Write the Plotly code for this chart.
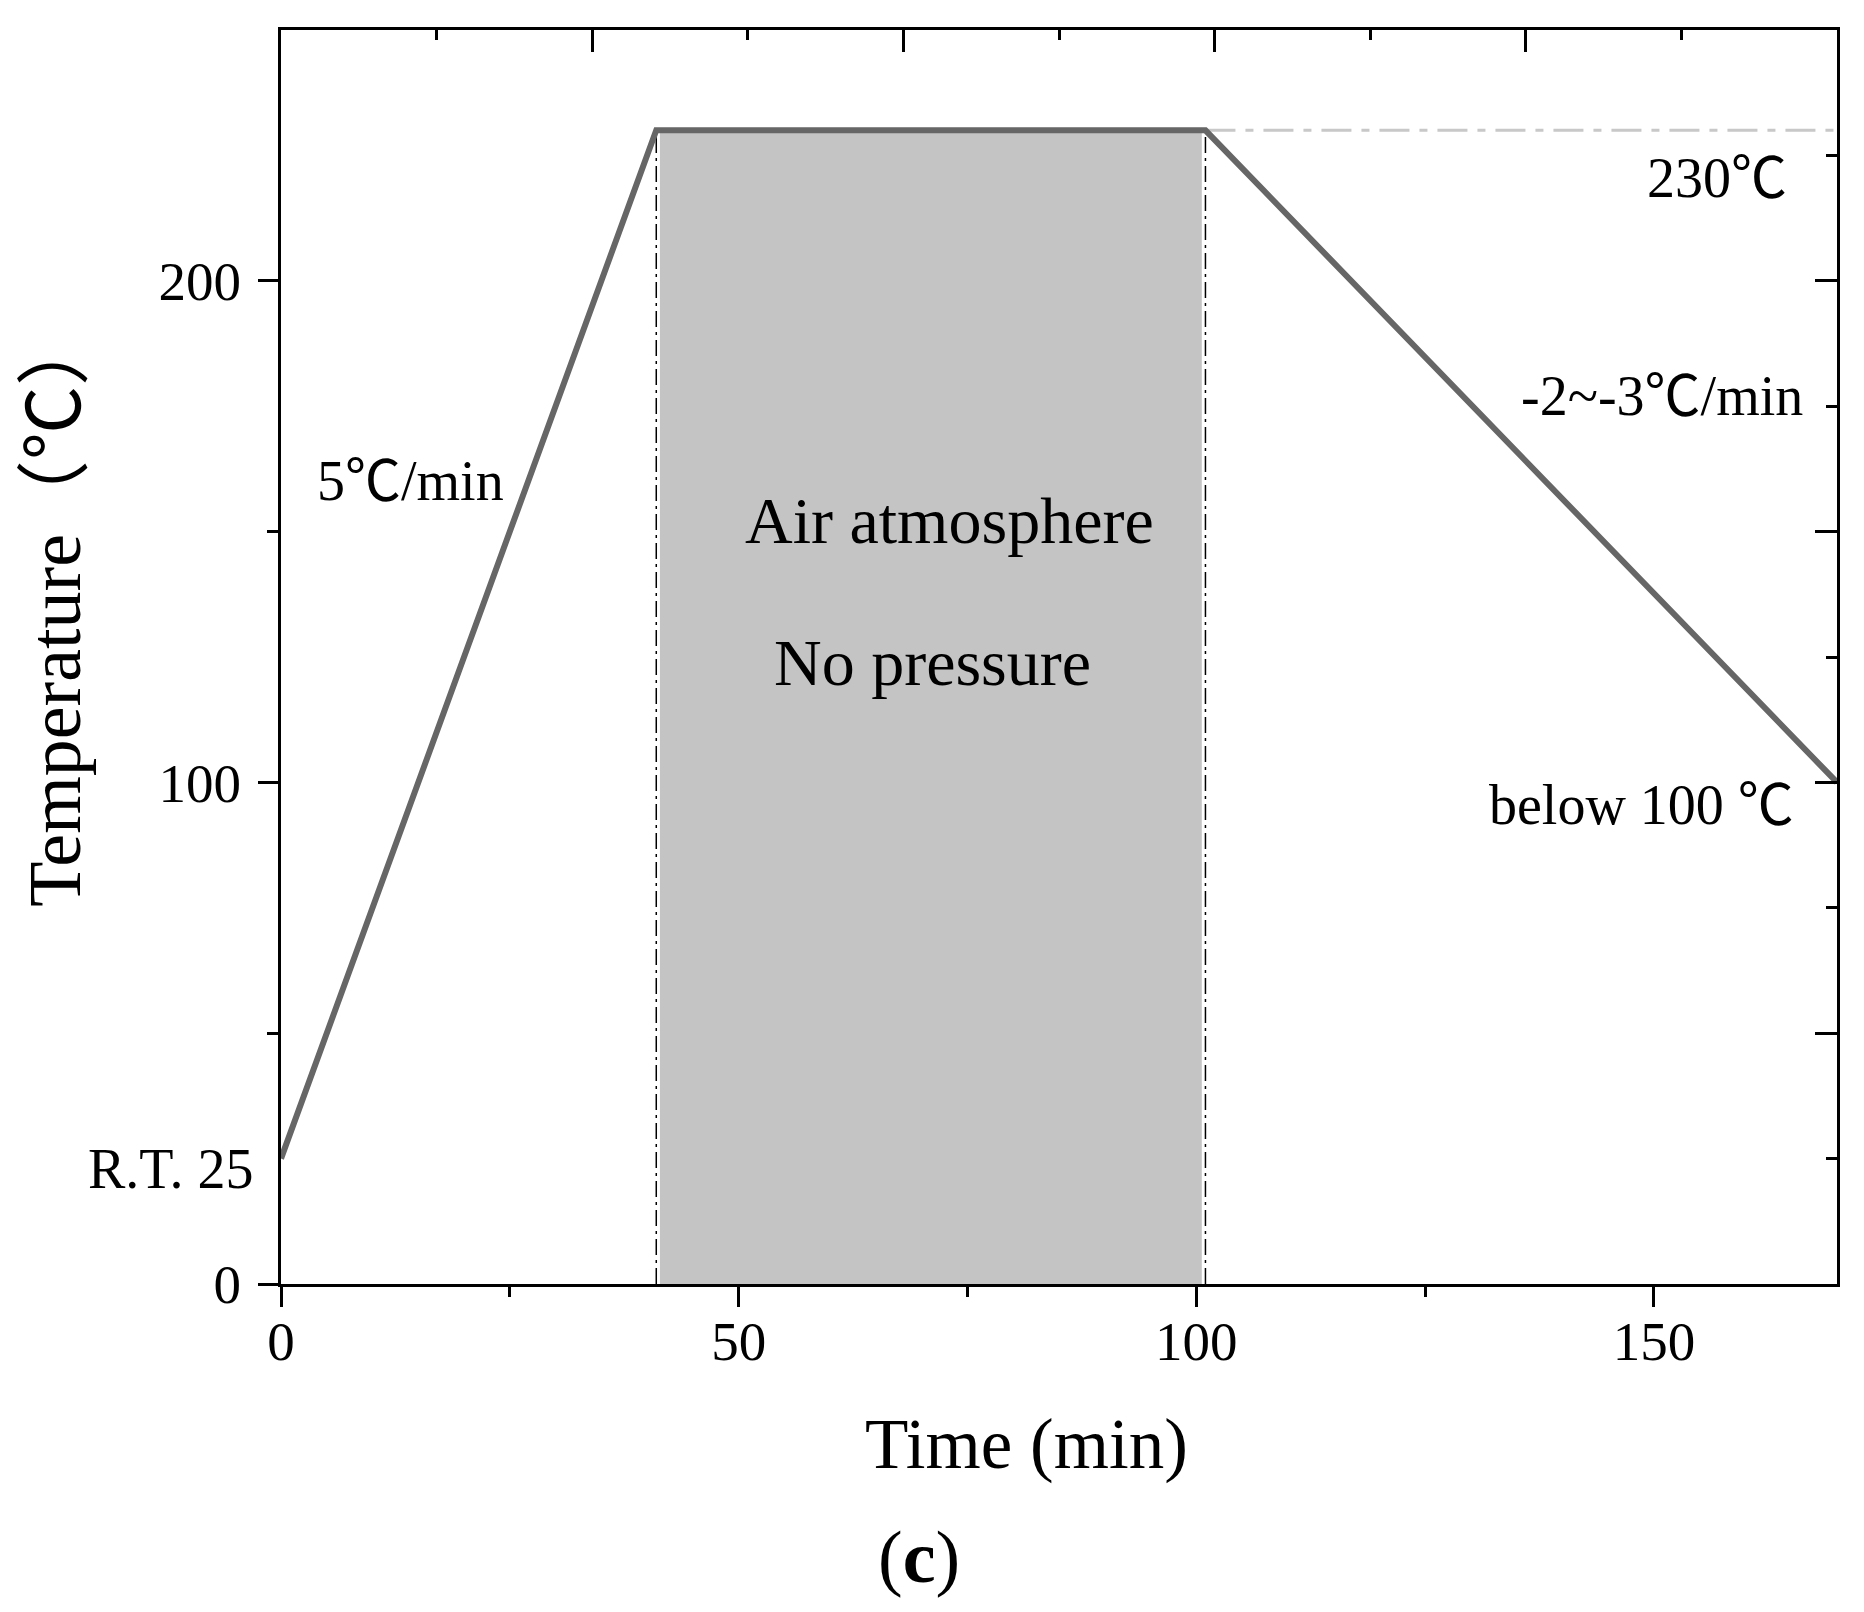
import plotly.graph_objects as go

# ---- data ----
time_pts = [0, 41, 101, 170]          # min
temp_pts = [25, 230, 230, 100]        # degC
hold_start = 41
hold_end = 101
hold_temp = 230
x_range = [0, 170]
y_range = [0, 250]
x_major = [0, 50, 100, 150]
x_minor = [25, 75, 125]
y_major = [0, 100, 200]
y_minor = [50, 150]
y2_major = [50, 100, 150, 200]
y2_minor = [25, 75, 125, 175, 225]

SERIF = "Liberation Serif, Times New Roman, Noto Sans CJK SC, serif"
PAL = "Palatino Linotype, Book Antiqua, Palatino, Liberation Serif, Noto Sans CJK SC, serif"

fig = go.Figure()

# shaded hold region
fig.add_shape(type="rect", xref="x", yref="y",
              x0=hold_start + 0.4, x1=hold_end - 0.4, y0=0, y1=hold_temp,
              fillcolor="#c4c4c4", line=dict(width=0), layer="below")

# vertical dash-dot boundaries
for xv in (hold_start, hold_end):
    fig.add_trace(go.Scatter(x=[xv, xv], y=[0, hold_temp], mode="lines",
                             line=dict(color="black", width=1.5, dash="16px,5px,3px,5px"),
                             showlegend=False, hoverinfo="skip"))

# horizontal reference at 230
fig.add_trace(go.Scatter(x=[hold_end, x_range[1]], y=[hold_temp, hold_temp], mode="lines",
                         line=dict(color="#c8c8c8", width=3, dash="30px,10px,8px,10px"),
                         showlegend=False, hoverinfo="skip"))

# temperature profile
fig.add_trace(go.Scatter(x=time_pts, y=temp_pts, mode="lines",
                         line=dict(color="#666666", width=6),
                         showlegend=False, hoverinfo="skip"))

# invisible trace for secondary axes
fig.add_trace(go.Scatter(x=[x_range[0]], y=[y_range[0]], xaxis="x2", yaxis="y2",
                         mode="markers", marker=dict(opacity=0),
                         showlegend=False, hoverinfo="skip"))

tickfont = dict(family=SERIF, size=55, color="black")

fig.update_layout(
    width=1864, height=1612,
    paper_bgcolor="white", plot_bgcolor="white",
    margin=dict(l=273, r=35, t=22, b=336),
    xaxis=dict(range=x_range, tickmode="array", tickvals=x_major,
               ticks="outside", ticklen=20, tickwidth=3, tickcolor="black",
               minor=dict(tickmode="array", tickvals=x_minor, ticks="outside",
                          ticklen=10, tickwidth=3, tickcolor="black"),
               showline=True, linewidth=3, linecolor="black",
               showgrid=False, zeroline=False, tickfont=tickfont,
               ticklabelstandoff=-13),
    xaxis2=dict(range=x_range, overlaying="x", side="top", anchor="y",
                tick0=0, dtick=34, ticks="inside", ticklen=22, tickwidth=3, tickcolor="black",
                minor=dict(tick0=0, dtick=17, ticks="inside", ticklen=10, tickwidth=3,
                           tickcolor="black"),
                showticklabels=False, showline=True, linewidth=3, linecolor="black",
                showgrid=False, zeroline=False),
    yaxis=dict(range=y_range, tickmode="array", tickvals=y_major,
               ticks="outside", ticklen=20, tickwidth=3, tickcolor="black",
               minor=dict(tickmode="array", tickvals=y_minor, ticks="outside",
                          ticklen=11, tickwidth=3, tickcolor="black"),
               showline=True, linewidth=3, linecolor="black",
               showgrid=False, zeroline=False, tickfont=tickfont,
               ticklabelstandoff=6),
    yaxis2=dict(range=y_range, overlaying="y", side="right", anchor="x",
                tickmode="array", tickvals=y2_major,
                ticks="inside", ticklen=22, tickwidth=3, tickcolor="black",
                minor=dict(tickmode="array", tickvals=y2_minor, ticks="inside",
                           ticklen=11, tickwidth=3, tickcolor="black"),
                showticklabels=False, showline=True, linewidth=3, linecolor="black",
                showgrid=False, zeroline=False),
)

ann = []
def A(text, x, y, xanchor="center", size=56, family=SERIF, xref="x", yref="y", **kw):
    ann.append(dict(text=text, x=x, y=y, xref=xref, yref=yref, xanchor=xanchor,
                    yanchor="middle", showarrow=False,
                    font=dict(family=family, size=size, color="black"), **kw))

A("5℃/min", 14.1, 160)
A("Air atmosphere", 73.0, 152.3, size=66, family=PAL)
A("No pressure", 71.2, 124, size=66, family=PAL)
A(f"{hold_temp}℃", 164.8, 220.5, xanchor="right")
A("-2~-3℃/min", 166.5, 177, xanchor="right")
A("below 100 ℃", 165.5, 95.5, xanchor="right", family=PAL)
A("R.T. 25", -0.017, 23, xanchor="right", xref="paper")
A("Time (min)", 0.479, -0.128, size=71, family=PAL, xref="paper", yref="paper")
A("Temperature（℃）", -0.145, 0.538, size=74, family=PAL, xref="paper", yref="paper",
  textangle=-90)
A("(<b>c</b>)", 0.41, -0.218, size=74, family=PAL, xref="paper", yref="paper")
fig.update_layout(annotations=ann)

fig.write_html("out.html")
